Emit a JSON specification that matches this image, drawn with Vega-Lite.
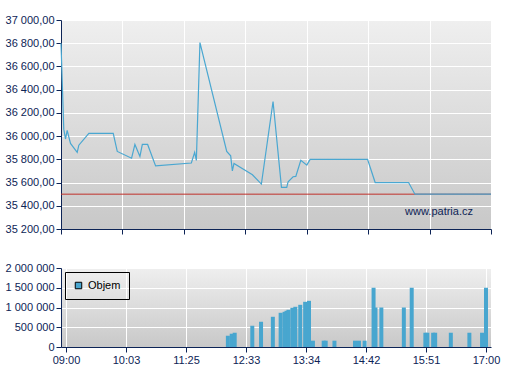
{
  "$schema": "https://vega.github.io/schema/vega-lite/v6.json",
  "padding": {"left": 5, "top": 14, "right": 5, "bottom": 5},
  "bounds": "flush",
  "spacing": 39,
  "resolve": {"legend": {"color": "independent"}, "scale": {"color": "independent"}},
  "config": {
    "locale": {"number": {"decimal": ",", "thousands": " ", "grouping": [3], "currency": ["", ""]}},
    "font": "Liberation Sans",
    "view": {
      "stroke": null,
      "fill": {"gradient": "linear", "x1": 0, "y1": 0, "x2": 0, "y2": 1, "stops": [{"offset": 0, "color": "#efefef"}, {"offset": 1, "color": "#c8c8c8"}]}
    },
    "axis": {
      "labelFont": "Liberation Sans",
      "labelFontSize": 11,
      "labelColor": "#0d2456",
      "domainColor": "#0d2456",
      "tickColor": "#0d2456",
      "tickSize": 5,
      "gridColor": "#ffffff",
      "gridOpacity": 1,
      "gridWidth": 1,
      "title": null,
      "labelPadding": 2,
      "labelOverlap": false,
      "labelFlush": false
    }
  },
  "vconcat": [
    {
      "width": 430,
      "height": 209,
      "data": {"values": [
        {"t": 0, "p": 36800}, {"t": 3.1, "p": 36060}, {"t": 5.0, "p": 35975}, {"t": 6.9, "p": 36050},
        {"t": 10.6, "p": 35937}, {"t": 18.1, "p": 35860}, {"t": 19.9, "p": 35922}, {"t": 31.1, "p": 36023},
        {"t": 58.3, "p": 36023}, {"t": 62.8, "p": 35868}, {"t": 78.8, "p": 35810}, {"t": 82.5, "p": 35928},
        {"t": 88.1, "p": 35825}, {"t": 90.8, "p": 35928}, {"t": 96.7, "p": 35928}, {"t": 105.6, "p": 35744},
        {"t": 145.5, "p": 35768}, {"t": 149.2, "p": 35860}, {"t": 151.1, "p": 35791}, {"t": 155.1, "p": 36806},
        {"t": 185.0, "p": 35868}, {"t": 189.4, "p": 35830}, {"t": 191.3, "p": 35701}, {"t": 193.1, "p": 35765},
        {"t": 213.7, "p": 35667}, {"t": 223.7, "p": 35587}, {"t": 236.7, "p": 36298}, {"t": 246.1, "p": 35559},
        {"t": 252.0, "p": 35559}, {"t": 253.5, "p": 35607}, {"t": 259.1, "p": 35650}, {"t": 262.1, "p": 35653},
        {"t": 267.7, "p": 35791}, {"t": 274.4, "p": 35750}, {"t": 278.1, "p": 35800}, {"t": 342.2, "p": 35800},
        {"t": 350.7, "p": 35600}, {"t": 388.0, "p": 35600}, {"t": 395.1, "p": 35500}, {"t": 480, "p": 35500}
      ]},
      "layer": [
        {
          "data": {"values": [{"prev": 35500}]},
          "mark": {"type": "rule", "color": "#c0302a", "strokeWidth": 1},
          "encoding": {
            "y": {
              "field": "prev", "type": "quantitative",
              "scale": {"domain": [35200, 37000], "nice": false, "zero": false},
              "axis": {"tickCount": 9, "format": ",.2f", "grid": true, "labelOverlap": false}
            }
          }
        },
        {
          "mark": {"type": "line", "color": "#4aa7d1", "strokeWidth": 1.2},
          "encoding": {
            "x": {
              "field": "t", "type": "quantitative",
              "scale": {"domain": [0, 480], "nice": false, "zero": false},
              "axis": {"values": [0, 68.5714, 137.1429, 205.7143, 274.2857, 342.8571, 411.4286, 480], "labels": false, "grid": true}
            },
            "y": {
              "field": "p", "type": "quantitative",
              "scale": {"domain": [35200, 37000], "nice": false, "zero": false},
              "axis": {"tickCount": 9, "format": ",.2f", "grid": true, "labelOverlap": false}
            }
          }
        },
        {
          "data": {"values": [{"t": 422, "p": 35346, "label": "www.patria.cz"}]},
          "mark": {"type": "text", "color": "#0d2456", "fontSize": 11, "font": "Liberation Sans"},
          "encoding": {
            "x": {"field": "t", "type": "quantitative"},
            "y": {"field": "p", "type": "quantitative"},
            "text": {"field": "label"}
          }
        }
      ]
    },
    {
      "width": 430,
      "height": 79,
      "data": {"values": [
        {"t": 185.0, "v": 285000}, {"t": 189.4, "v": 336000}, {"t": 192.8, "v": 361000}, {"t": 212.9, "v": 538000},
        {"t": 222.9, "v": 639000}, {"t": 236.4, "v": 765000}, {"t": 245.3, "v": 866000}, {"t": 249.8, "v": 891000},
        {"t": 252.0, "v": 917000}, {"t": 254.2, "v": 942000}, {"t": 258.7, "v": 992000}, {"t": 262.1, "v": 1018000},
        {"t": 267.7, "v": 1068000}, {"t": 273.3, "v": 1144000}, {"t": 277.7, "v": 1169000}, {"t": 282.2, "v": 160000},
        {"t": 294.5, "v": 160000}, {"t": 296.8, "v": 160000}, {"t": 306.8, "v": 160000}, {"t": 330.3, "v": 160000},
        {"t": 334.8, "v": 160000}, {"t": 341.3, "v": 160000}, {"t": 353.7, "v": 1000000}, {"t": 351.5, "v": 1500000},
        {"t": 360.4, "v": 1000000}, {"t": 386.1, "v": 1000000}, {"t": 395.1, "v": 1500000}, {"t": 410.7, "v": 361000},
        {"t": 413.0, "v": 361000}, {"t": 419.6, "v": 361000}, {"t": 421.9, "v": 361000}, {"t": 439.8, "v": 361000},
        {"t": 461.0, "v": 361000}, {"t": 475.5, "v": 361000}, {"t": 480, "v": 1500000}
      ]},
      "mark": {"type": "bar", "size": 4, "clip": true},
      "encoding": {
        "x": {
          "field": "t", "type": "quantitative",
          "scale": {"domain": [0, 480], "nice": false, "zero": false},
          "axis": {
            "values": [0, 68.5714, 137.1429, 205.7143, 274.2857, 342.8571, 411.4286, 480],
            "labelExpr": "['09:00','10:03','11:25','12:33','13:34','14:42','15:51','17:00'][round(datum.value/68.5714)]",
            "grid": true, "labelFlush": false, "labelOverlap": false
          }
        },
        "y": {
          "field": "v", "type": "quantitative",
          "scale": {"domain": [0, 2000000], "nice": false},
          "axis": {"values": [0, 500000, 1000000, 1500000, 2000000], "format": ",.0f", "grid": true}
        },
        "color": {
          "datum": "Objem", "type": "nominal",
          "scale": {"range": ["#48a6cf"]},
          "legend": {
            "title": null, "orient": "top-left", "offset": 4,
            "strokeColor": "#000000", "padding": 8, "cornerRadius": 0,
            "symbolType": "square", "symbolSize": 42, "symbolStrokeColor": "#000000", "symbolStrokeWidth": 1, "symbolOpacity": 1,
            "labelFont": "Liberation Sans", "labelFontSize": 11, "labelColor": "#000000", "labelOffset": 4
          }
        }
      }
    }
  ]
}
